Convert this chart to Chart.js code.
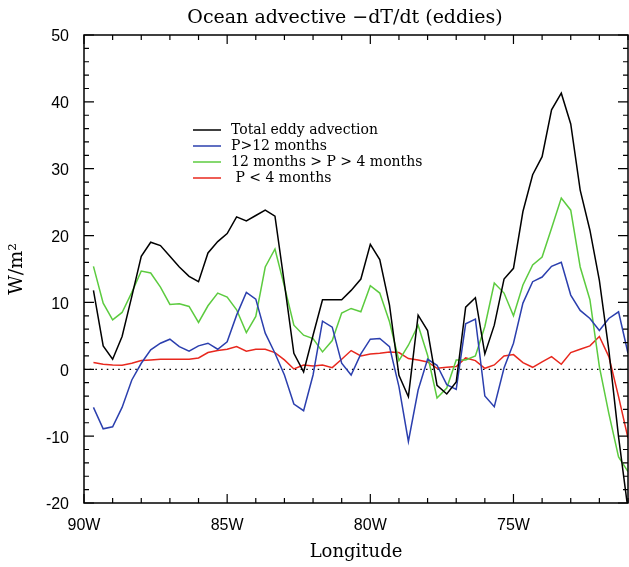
<!DOCTYPE html>
<html>
<head>
<meta charset="utf-8">
<script src="https://cdn.jsdelivr.net/npm/chart.js@4.4.1/dist/chart.umd.min.js"></script>
<style>
html, body { margin: 0; padding: 0; background: #fff; }
#wrap { width: 629px; height: 567px; }
</style>
</head>
<body>
<div id="wrap"><canvas id="eddyChart" width="629" height="567"></canvas></div>
<script>
// longitude of each sample (degrees east, so west is negative)
var longitudes = [
  -89.67, -89.33, -89.00, -88.67, -88.33, -88.00, -87.67, -87.33, -87.00, -86.67,
  -86.33, -86.00, -85.67, -85.33, -85.00, -84.67, -84.33, -84.00, -83.67, -83.33,
  -83.00, -82.67, -82.33, -82.00, -81.67, -81.33, -81.00, -80.67, -80.33, -80.00,
  -79.67, -79.33, -79.00, -78.67, -78.33, -78.00, -77.67, -77.33, -77.00, -76.67,
  -76.33, -76.00, -75.67, -75.33, -75.00, -74.67, -74.33, -74.00, -73.67, -73.33,
  -73.00, -72.67, -72.33, -72.00, -71.67, -71.33, -71.00
];

var totalEddy = [
  11.8, 3.5, 1.5, 4.9, 10.9, 16.9, 19.0, 18.5, 16.9, 15.3,
  13.9, 13.1, 17.4, 19.1, 20.3, 22.8, 22.2, 23.0, 23.8, 22.9,
  12.8, 2.4, -0.4, 5.1, 10.4, 10.4, 10.4, 11.8, 13.5, 18.7,
  16.4, 9.6, -0.9, -4.1, 8.1, 5.8, -2.4, -3.7, -1.9, 9.3,
  10.7, 2.3, 6.6, 13.5, 15.1, 23.6, 29.1, 31.8, 38.8, 41.3,
  36.7, 26.8, 20.8, 13.3, 2.9, -10.1, -21.0
];

var pOver12 = [
  -5.7, -8.9, -8.6, -5.7, -1.6, 0.9, 2.9, 3.9, 4.5, 3.4,
  2.7, 3.5, 3.9, 3.0, 4.1, 8.1, 11.5, 10.5, 5.4, 2.4,
  -0.85, -5.2, -6.2, -0.85, 7.2, 6.3, 0.9, -0.85, 2.3, 4.5,
  4.6, 3.4, -2.6, -10.8, -3.1, 1.5, 0.6, -2.3, -3.0, 6.8,
  7.5, -4.0, -5.6, 0.2, 3.9, 9.9, 13.1, 13.8, 15.4, 16.0,
  11.1, 8.8, 7.6, 5.8, 7.6, 8.6, 2.4
];

var p12to4 = [
  15.4, 9.9, 7.4, 8.5, 11.5, 14.7, 14.4, 12.3, 9.7, 9.8,
  9.4, 7.0, 9.5, 11.4, 10.8, 8.9, 5.5, 7.9, 15.3, 18.0,
  12.4, 6.6, 5.1, 4.6, 2.6, 4.3, 8.4, 9.1, 8.6, 12.5,
  11.4, 7.1, 1.3, 3.6, 6.6, 2.1, -4.3, -2.8, 1.4, 1.4,
  2.0, 6.4, 12.9, 11.4, 8.0, 12.6, 15.6, 16.8, 21.1, 25.6,
  23.8, 15.3, 10.4, 0.4, -6.6, -13.1, -15.3
];

var pUnder4 = [
  1.0, 0.75, 0.65, 0.6, 0.9, 1.3, 1.4, 1.5, 1.5, 1.5,
  1.5, 1.7, 2.5, 2.8, 3.0, 3.4, 2.7, 3.0, 3.0, 2.5,
  1.4, 0.05, 0.65, 0.5, 0.65, 0.25, 1.5, 2.8, 2.0, 2.3,
  2.4, 2.6, 2.5, 1.6, 1.4, 1.1, 0.15, 0.3, 0.4, 1.7,
  1.3, 0.15, 0.65, 2.0, 2.2, 1.0, 0.3, 1.1, 1.9, 0.75,
  2.5, 3.0, 3.5, 4.9, 1.9, -4.1, -10.3
];

var seriesNames = ['Total eddy advection', 'P>12 months', '12 months > P > 4 months', ' P < 4 months'];
var seriesColors = ['#000000', '#2b3fae', '#5ccb3f', '#e8281e'];

var hershey = '"DejaVu Serif", serif';

function toPoints(values) {
  return values.map(function (v, i) { return { x: longitudes[i], y: v }; });
}

// box, inward ticks, zero line, legend and title (IDL style)
var idlFrame = {
  id: 'idlFrame',
  beforeDatasetsDraw: function (chart) {
    var ctx = chart.ctx, a = chart.chartArea, y0 = chart.scales.y.getPixelForValue(0);
    ctx.save();
    ctx.strokeStyle = '#000';
    ctx.lineWidth = 1.3;
    ctx.setLineDash([1.5, 4.2]);
    ctx.beginPath();
    ctx.moveTo(a.left, y0);
    ctx.lineTo(a.right, y0);
    ctx.stroke();
    ctx.restore();
  },
  afterDraw: function (chart) {
    var ctx = chart.ctx, a = chart.chartArea, xs = chart.scales.x, ys = chart.scales.y;
    ctx.save();
    ctx.strokeStyle = '#000';
    ctx.lineWidth = 1.5;
    ctx.strokeRect(a.left, a.top, a.right - a.left, a.bottom - a.top);

    ctx.lineWidth = 1.2;
    ctx.beginPath();
    var v, p, len;
    for (v = -90; v <= -71; v++) {
      p = xs.getPixelForValue(v);
      len = (v % 5 === 0) ? 9 : 5;
      ctx.moveTo(p, a.bottom); ctx.lineTo(p, a.bottom - len);
      ctx.moveTo(p, a.top); ctx.lineTo(p, a.top + len);
    }
    for (v = -20; v <= 50; v += 2) {
      p = ys.getPixelForValue(v);
      len = (v % 10 === 0) ? 10 : 5;
      ctx.moveTo(a.left, p); ctx.lineTo(a.left + len, p);
      ctx.moveTo(a.right, p); ctx.lineTo(a.right - len, p);
    }
    ctx.stroke();

    // legend
    ctx.font = '14px ' + hershey;
    ctx.textBaseline = 'middle';
    ctx.fillStyle = '#000';
    chart.data.datasets.forEach(function (ds, i) {
      var yy = 130 + i * 16;
      ctx.strokeStyle = ds.borderColor;
      ctx.lineWidth = 1.5;
      ctx.beginPath();
      ctx.moveTo(193, yy); ctx.lineTo(221, yy);
      ctx.stroke();
      ctx.fillText(ds.label, 231, yy);
    });

    // title
    ctx.font = '19px ' + hershey;
    ctx.textAlign = 'center';
    ctx.textBaseline = 'middle';
    ctx.fillText('Ocean advective \u2212dT/dt (eddies)', 345, 18);
    ctx.restore();
  }
};

var datasets = [totalEddy, pOver12, p12to4, pUnder4].map(function (vals, i) {
  return {
    label: seriesNames[i],
    data: toPoints(vals),
    borderColor: seriesColors[i],
    backgroundColor: seriesColors[i],
    borderWidth: 1.5,
    pointRadius: 0,
    tension: 0,
    fill: false
  };
});

var ctx = document.getElementById('eddyChart').getContext('2d');
var eddyChart = new Chart(ctx, {
  type: 'line',
  data: { datasets: datasets },
  options: {
    responsive: false,
    animation: false,
    devicePixelRatio: 1,
    layout: { padding: { top: 35, right: 1, left: 0, bottom: 0 } },
    plugins: {
      legend: { display: false },
      title: { display: false },
      tooltip: { enabled: false }
    },
    scales: {
      x: {
        type: 'linear',
        min: -90,
        max: -71,
        afterFit: function (s) { s.height = 64; },
        grid: { display: false },
        border: { display: false },
        ticks: {
          stepSize: 5,
          includeBounds: false,
          maxRotation: 0,
          autoSkip: false,
          padding: 5,
          color: '#000',
          font: { family: '"Liberation Sans", Arial, sans-serif', size: 16 },
          callback: function (v) { return (v % 5 === 0) ? Math.abs(v) + 'W' : ''; }
        },
        title: {
          display: true,
          text: 'Longitude',
          color: '#000',
          font: { family: hershey, size: 18 },
          padding: { top: 0, bottom: 4 }
        }
      },
      y: {
        min: -20,
        max: 50,
        afterFit: function (s) { s.width = 84; },
        grid: { display: false },
        border: { display: false },
        ticks: {
          stepSize: 10,
          padding: 7,
          labelOffset: 2,
          color: '#000',
          font: { family: '"Liberation Sans", Arial, sans-serif', size: 16 }
        },
        title: {
          display: true,
          text: 'W/m\u00b2',
          color: '#000',
          font: { family: hershey, size: 19 },
          padding: { top: 6, bottom: 0 }
        }
      }
    }
  },
  plugins: [idlFrame]
});
</script>
</body>
</html>
